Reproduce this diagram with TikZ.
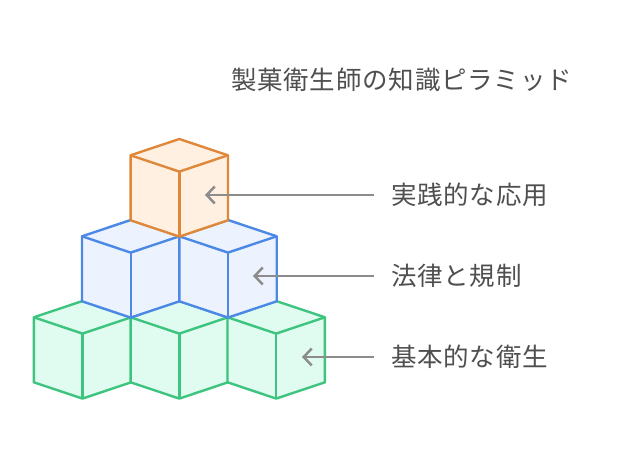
\documentclass[tikz,border=0pt]{standalone}
\usepackage{fontspec}
\newfontfamily\jp[LetterSpace=3]{Noto Sans CJK JP}
\usetikzlibrary{arrows.meta}
\definecolor{orS}{HTML}{E0883A}
\definecolor{orF}{HTML}{FFF0E2}
\definecolor{blS}{HTML}{4C88E6}
\definecolor{blF}{HTML}{ECF3FE}
\definecolor{grS}{HTML}{3DC47E}
\definecolor{grF}{HTML}{E0FBEF}
\definecolor{arr}{HTML}{8C8C8C}
\definecolor{txt}{HTML}{4F4F4F}
\newcommand{\mycube}[4]{%
  \begin{scope}[shift={(#1,#2)}]
    \fill[#4] (0,0) -- (48.7,16.3) -- (48.7,81.3) -- (0,97.6) -- (-48.7,81.3) -- (-48.7,16.3) -- cycle;
    \draw[#3,cubeline] (0,0) -- (48.7,16.3) -- (48.7,81.3) -- (0,97.6) -- (-48.7,81.3) -- (-48.7,16.3) -- cycle;
    \draw[#3,cubeline] (-48.7,16.3) -- (0,32.6) -- (48.7,16.3);
    \draw[#3,cubeline] (0,32.6) -- (0,97.6);
  \end{scope}}
\tikzset{
  cubeline/.style={line width=2.4pt, line join=round},
  lbl/.style={anchor=west, inner sep=0pt, text=txt, font=\jp\fontsize{25.5}{30}\selectfont},
  pointer/.style={draw=arr, line width=2.5pt, -{Straight Barb[length=8pt,width=17pt,line width=2.5pt]}}
}
\begin{document}
\begin{tikzpicture}[x=1pt,y=-1pt]
\useasboundingbox (0,0) rectangle (619,465);
\fill[white] (0,0) rectangle (619,465);
% bottom row
\mycube{82.5}{301}{grS}{grF}
\mycube{179.3}{301}{grS}{grF}
\mycube{276.2}{301}{grS}{grF}
% middle row
\mycube{130.7}{220}{blS}{blF}
\mycube{228}{220}{blS}{blF}
% top
\mycube{179.3}{139}{orS}{orF}
% title
\node[lbl] (title) at (231,80) {製菓衛生師の知識ピラミッド};
% labels
\node[lbl] (l1) at (391,195) {実践的な応用};
\node[lbl] (l2) at (391,276) {法律と規制};
\node[lbl] (l3) at (391,357) {基本的な衛生};
\coordinate (a1) at (205,195);
\coordinate (a2) at (253,276);
\coordinate (a3) at (302,357);
\draw[pointer] ([xshift=-17pt]l1.west) -- (a1);
\draw[pointer] ([xshift=-17pt]l2.west) -- (a2);
\draw[pointer] ([xshift=-17pt]l3.west) -- (a3);
\end{tikzpicture}
\end{document}
